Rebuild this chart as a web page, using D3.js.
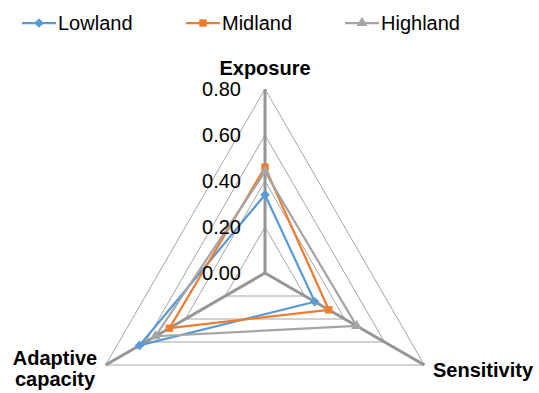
<!DOCTYPE html>
<html>
<head>
<meta charset="utf-8">
<script src="https://cdn.jsdelivr.net/npm/d3@7"></script>
<style>
  body { margin: 0; background: #fff; }
  svg { display: block; }
</style>
</head>
<body>
<div id="chart"></div>
<script>
// data
var axesNames = ['Exposure', 'Sensitivity', 'Adaptive capacity'];
var seriesNames = ['Lowland', 'Midland', 'Highland'];
var lowland = [0.34, 0.25, 0.63];
var midland = [0.46, 0.32, 0.48];
var highland = [0.44, 0.46, 0.55];
var tickValues = [0, 0.2, 0.4, 0.6, 0.8];

var attrs = {
  width: 539,
  height: 393,
  cx: 265,
  cy: 273,
  radius: 184,
  colors: ['#5B9BD5', '#ED7D31', '#A5A5A5'],
  font: 'Arial, "Liberation Sans", sans-serif',
  fontSize: 20
};

var seriesData = [lowland, midland, highland];

var svg = d3.select('#chart').append('svg')
  .attr('width', attrs.width)
  .attr('height', attrs.height)
  .attr('font-family', attrs.font);

var rScale = d3.scaleLinear().domain([0, 0.8]).range([0, attrs.radius]);
// angles: top, lower right, lower left
var angle = d3.scaleOrdinal().domain(axesNames).range([-Math.PI / 2, Math.PI / 6, 5 * Math.PI / 6]);

function pt(name, v) {
  var a = angle(name), r = rScale(v);
  return [attrs.cx + r * Math.cos(a), attrs.cy + r * Math.sin(a)];
}

var chart = svg.append('g');

// grid triangles
chart.selectAll('.grid').data(tickValues.slice(1)).enter().append('path')
  .attr('class', 'grid')
  .attr('d', v => d3.line()(axesNames.map(n => pt(n, v))) + 'Z')
  .attr('fill', 'none')
  .attr('stroke', '#a6a6a6')
  .attr('stroke-width', 1);

// spokes
chart.selectAll('.spoke').data(axesNames).enter().append('line')
  .attr('class', 'spoke')
  .attr('x1', attrs.cx).attr('y1', attrs.cy)
  .attr('x2', d => pt(d, 0.8)[0])
  .attr('y2', d => pt(d, 0.8)[1])
  .attr('stroke', '#969696')
  .attr('stroke-width', 3);

// series
var symbols = [d3.symbolDiamond2, d3.symbolSquare, d3.symbolTriangle];
var symSizes = [60, 55, 50];
seriesData.forEach(function (vals, i) {
  var pts = axesNames.map((n, j) => pt(n, vals[j]));
  var g = chart.append('g').attr('class', 'series');
  g.append('path')
    .attr('d', d3.line()(pts) + 'Z')
    .attr('fill', 'none')
    .attr('stroke', attrs.colors[i])
    .attr('stroke-width', 2.25)
    .attr('stroke-linejoin', 'round');
  g.selectAll('.marker').data(pts).enter().append('path')
    .attr('class', 'marker')
    .attr('transform', d => 'translate(' + d[0] + ',' + d[1] + ')')
    .attr('d', d3.symbol().type(symbols[i]).size(symSizes[i]))
    .attr('fill', attrs.colors[i]);
});

// tick labels
chart.selectAll('.tick-label').data(tickValues).enter().append('text')
  .attr('class', 'tick-label')
  .attr('x', 241)
  .attr('y', d => attrs.cy - rScale(d))
  .attr('dy', '0.36em')
  .attr('text-anchor', 'end')
  .attr('font-size', attrs.fontSize)
  .attr('fill', '#000')
  .text(d => d3.format('.2f')(d));

// axis names
svg.append('text')
  .attr('x', attrs.cx).attr('y', 75)
  .attr('text-anchor', 'middle')
  .attr('font-size', attrs.fontSize).attr('font-weight', 'bold')
  .text(axesNames[0]);
svg.append('text')
  .attr('x', 483).attr('y', 377)
  .attr('text-anchor', 'middle')
  .attr('font-size', attrs.fontSize).attr('font-weight', 'bold')
  .text(axesNames[1]);
var adapt = svg.append('text')
  .attr('text-anchor', 'middle')
  .attr('font-size', attrs.fontSize).attr('font-weight', 'bold');
axesNames[2].split(' ').forEach(function (w, i) {
  adapt.append('tspan').attr('x', 55).attr('y', 365 + i * 21).text(w);
});

// legend
var legendX = [22, 186, 345];
var legend = svg.selectAll('.legend').data(seriesNames).enter().append('g')
  .attr('class', 'legend')
  .attr('transform', (d, i) => 'translate(' + legendX[i] + ',23)');
legend.append('line')
  .attr('x1', 0).attr('x2', 34)
  .attr('stroke', (d, i) => attrs.colors[i])
  .attr('stroke-width', 2.25);
legend.append('path')
  .attr('transform', 'translate(17,0)')
  .attr('d', (d, i) => d3.symbol().type(symbols[i]).size(symSizes[i])())
  .attr('fill', (d, i) => attrs.colors[i]);
legend.append('text')
  .attr('x', 36).attr('y', 7)
  .attr('font-size', attrs.fontSize)
  .attr('fill', '#000')
  .text(d => d);
</script>
</body>
</html>
